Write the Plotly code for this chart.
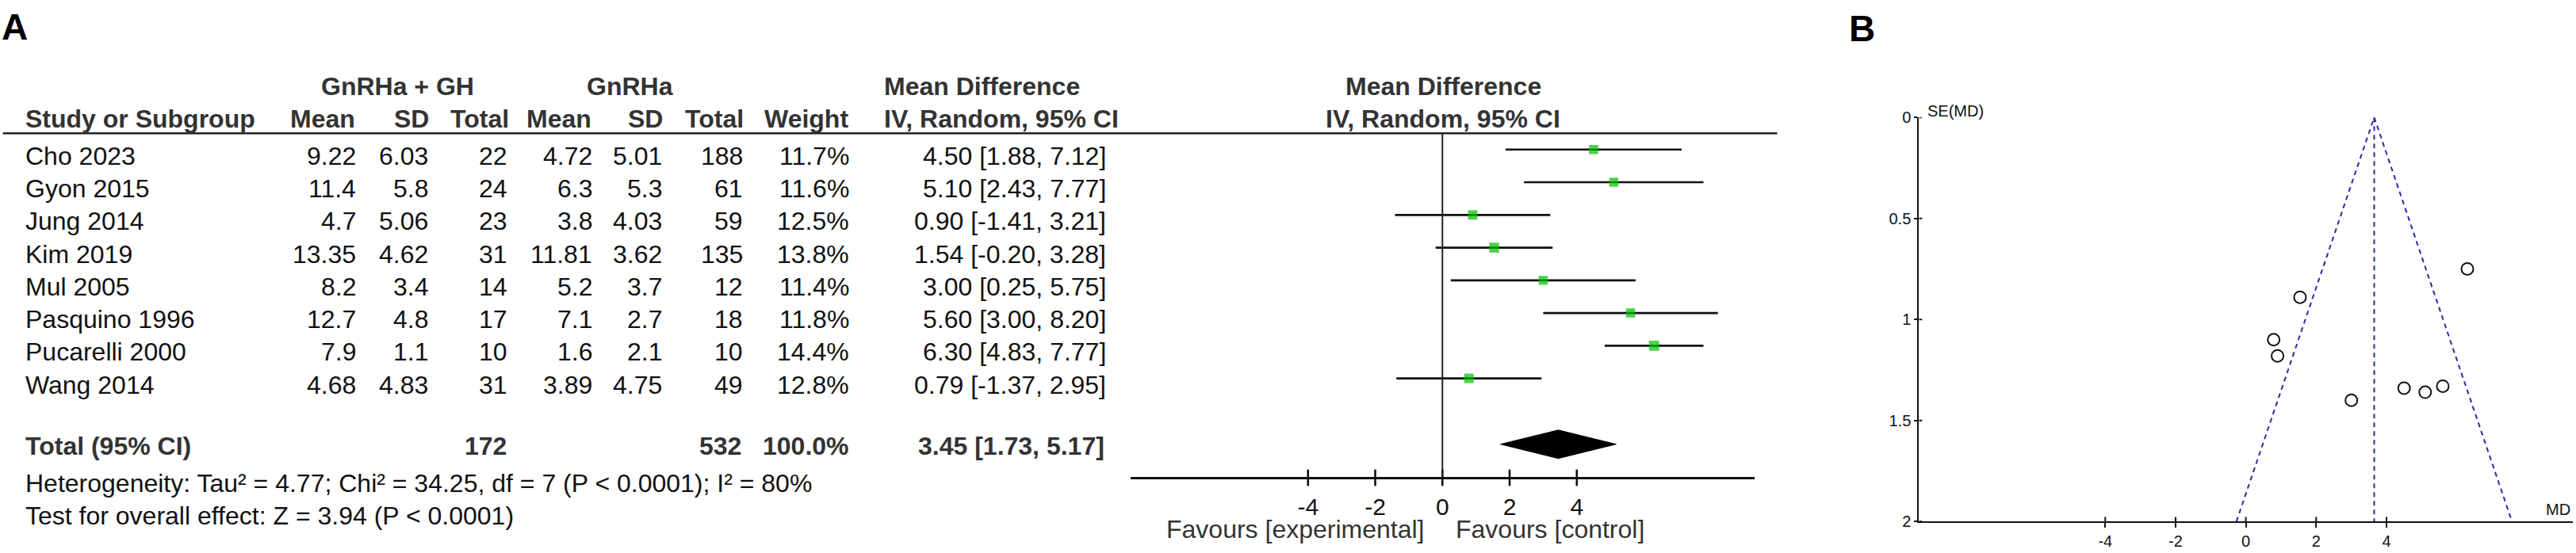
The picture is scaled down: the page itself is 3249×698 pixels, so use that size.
import plotly.graph_objects as go

W, H = 3249, 698

studies = ["Cho 2023", "Gyon 2015", "Jung 2014", "Kim 2019", "Mul 2005",
           "Pasquino 1996", "Pucarelli 2000", "Wang 2014"]
exp_mean = [9.22, 11.4, 4.7, 13.35, 8.2, 12.7, 7.9, 4.68]
exp_sd = [6.03, 5.8, 5.06, 4.62, 3.4, 4.8, 1.1, 4.83]
exp_n = [22, 24, 23, 31, 14, 17, 10, 31]
ctl_mean = [4.72, 6.3, 3.8, 11.81, 5.2, 7.1, 1.6, 3.89]
ctl_sd = [5.01, 5.3, 4.03, 3.62, 3.7, 2.7, 2.1, 4.75]
ctl_n = [188, 61, 59, 135, 12, 18, 10, 49]
weight = [11.7, 11.6, 12.5, 13.8, 11.4, 11.8, 14.4, 12.8]
md = [4.50, 5.10, 0.90, 1.54, 3.00, 5.60, 6.30, 0.79]
ci_lo = [1.88, 2.43, -1.41, -0.20, 0.25, 3.00, 4.83, -1.37]
ci_hi = [7.12, 7.77, 3.21, 3.28, 5.75, 8.20, 7.77, 2.95]

total_exp = 172
total_ctl = 532
total_md, total_lo, total_hi = 3.45, 1.73, 5.17
heterogeneity = "Heterogeneity: Tau² = 4.77; Chi² = 34.25, df = 7 (P < 0.0001); I² = 80%"
overall = "Test for overall effect: Z = 3.94 (P < 0.0001)"

forest_ticks = [-4, -2, 0, 2, 4]

# funnel plot (panel B)
se_md = [1.34, 1.36, 1.18, 0.89, 1.40, 1.33, 0.75, 1.10]
funnel_center = 3.65
funnel_ticks = [-4, -2, 0, 2, 4]
se_ticks = [0, 0.5, 1, 1.5, 2]
se_ticktext = ["0", "0.5", "1", "1.5", "2"]

FONT = "Arial, Liberation Sans, sans-serif"
NARROW = "Liberation Sans Narrow, Arial Narrow, Liberation Sans, sans-serif"
HEAD = "#333333"
INK = "#111111"


def px(x):
    return x / W


def py(y):
    return 1 - y / H


# row units: forest rows sit at 0..7, one row = 42.6 px
ROW0, ROWH = 183.6, 42.6


def rowpos(p):
    return (p - ROW0) / ROWH


axis_row = rowpos(610.8)
total_row = rowpos(567.6)

fig = go.Figure()

# confidence interval lines
xs, ys = [], []
for k in range(len(studies)):
    xs += [ci_lo[k], ci_hi[k], None]
    ys += [k, k, None]
fig.add_trace(go.Scatter(x=xs, y=ys, mode="lines", line=dict(color=INK, width=2.6),
                         xaxis="x", yaxis="y", hoverinfo="skip"))
fig.add_trace(go.Scatter(x=md, y=list(range(len(studies))), mode="markers",
                         marker=dict(symbol="square", color="#00c000",
                                     size=[11.5 * (w / 11.7) ** 0.5 for w in weight],
                                     line=dict(width=0)),
                         xaxis="x", yaxis="y"))

# pooled diamond
dh = 18.5 / ROWH
fig.add_trace(go.Scatter(x=[total_lo, total_md, total_hi, total_md, total_lo],
                         y=[total_row, total_row - dh, total_row, total_row + dh, total_row],
                         mode="lines", fill="toself", fillcolor="black",
                         line=dict(color="black", width=1), xaxis="x", yaxis="y"))

# forest ticks crossing the axis line
tx, ty = [], []
for t in forest_ticks:
    tx += [t, t, None]
    ty += [axis_row - 0.24, axis_row + 0.26, None]
fig.add_trace(go.Scatter(x=tx, y=ty, mode="lines", line=dict(color=INK, width=2.6),
                         xaxis="x", yaxis="y", hoverinfo="skip"))

# funnel plot
fig.add_trace(go.Scatter(x=[funnel_center - 1.96 * 2, funnel_center, funnel_center + 1.96 * 2],
                         y=[2, 0, 2], mode="lines",
                         line=dict(color="#2a2aa8", width=2, dash="6px,5px"),
                         xaxis="x2", yaxis="y2"))
fig.add_trace(go.Scatter(x=[funnel_center, funnel_center], y=[0, 2], mode="lines",
                         line=dict(color="#2a2aa8", width=2, dash="6px,5px"),
                         xaxis="x2", yaxis="y2"))
fig.add_trace(go.Scatter(x=md, y=se_md, mode="markers",
                         marker=dict(symbol="circle-open", size=15, color="#111",
                                     line=dict(width=2)),
                         xaxis="x2", yaxis="y2"))
# inside halves of the funnel ticks
fx, fy = [], []
for t in funnel_ticks:
    fx += [t, t, None]
    fy += [2, 2 - 6 / 263.8, None]
fig.add_trace(go.Scatter(x=fx, y=fy, mode="lines", line=dict(color=INK, width=2),
                         xaxis="x2", yaxis="y2", hoverinfo="skip"))
gx, gy = [], []
for s in se_ticks:
    gx += [-9.3, -9.3 + 4 / 44.3, None]
    gy += [s, s, None]
fig.add_trace(go.Scatter(x=gx, y=gy, mode="lines", line=dict(color=INK, width=2),
                         xaxis="x2", yaxis="y2", hoverinfo="skip"))

ann = []


def text(x, y, s, anchor="right", size=32, bold=False, color=INK, yref="paper",
         yshift=0, family=FONT):
    if bold:
        s = "<b>" + s + "</b>"
    ann.append(dict(x=px(x), y=y, xref="paper", yref=yref, text=s, showarrow=False,
                    xanchor=anchor, yanchor="middle", yshift=yshift,
                    font=dict(family=family, size=size, color=color)))


text(0, py(24), "A", "left", 46, True, "black")
text(2330, py(26), "B", "left", 46, True, "black")

# headers
text(501, py(101.5), "GnRHa + GH", "center", bold=True, color=HEAD)
text(794, py(101.5), "GnRHa", "center", bold=True, color=HEAD)
text(1113, py(101.5), "Mean Difference", "left", bold=True, color=HEAD)
text(1820, py(101.5), "Mean Difference", "center", bold=True, color=HEAD)
hy = py(143.5)
text(30, hy, "Study or Subgroup", "left", bold=True, color=HEAD)
for xr, lab in [(450, "Mean"), (543, "SD"), (644, "Total"), (748, "Mean"), (838, "SD"),
                (940, "Total"), (1072, "Weight")]:
    text(xr, hy, lab, bold=True, color=HEAD)
text(1113, hy, "IV, Random, 95% CI", "left", bold=True, color=HEAD)
text(1820, hy, "IV, Random, 95% CI", "center", bold=True, color=HEAD)

# study rows
for k, name in enumerate(studies):
    text(30, k, name, "left", yref="y", yshift=-8)
    text(450.5, k, str(exp_mean[k]), yref="y", yshift=-8)
    text(541.5, k, str(exp_sd[k]), yref="y", yshift=-8)
    text(642, k, str(exp_n[k]), yref="y", yshift=-8)
    text(748.5, k, str(ctl_mean[k]), yref="y", yshift=-8)
    text(837.5, k, str(ctl_sd[k]), yref="y", yshift=-8)
    text(939, k, str(ctl_n[k]), yref="y", yshift=-8)
    text(1072.5, k, "%.1f%%" % weight[k], yref="y", yshift=-8)
    text(1397, k, "%.2f [%.2f, %.2f]" % (md[k], ci_lo[k], ci_hi[k]), yref="y", yshift=-8)

ty_ = py(570)
text(30, ty_, "Total (95% CI)", "left", bold=True, color=HEAD)
text(641, ty_, str(total_exp), bold=True, color=HEAD)
text(937, ty_, str(total_ctl), bold=True, color=HEAD)
text(1073, ty_, "100.0%", bold=True, color=HEAD)
text(1395, ty_, "%.2f [%.2f, %.2f]" % (total_md, total_lo, total_hi), bold=True, color=HEAD)
text(30, py(619), heterogeneity, "left")
text(30, py(661), overall, "left")
text(1798, py(678), "Favours [experimental]", "right", color=HEAD)
text(1834, py(678), "Favours [control]", "left", color=HEAD)

text(2429, py(133), "SE(MD)", "left", 20, family=NARROW)
text(3244, py(653), "MD", "right", 20, family=NARROW)

shapes = [
    dict(type="line", xref="paper", yref="paper", x0=px(3.6), x1=px(2241.5),
         y0=py(162.3), y1=py(162.3), line=dict(color="#222", width=2.6)),
    dict(type="line", xref="x", yref="y", x0=0, x1=0, y0=rowpos(162.3), y1=axis_row,
         line=dict(color="#222", width=2)),
]

fig.update_layout(
    width=W, height=H, margin=dict(l=0, r=0, t=0, b=0),
    paper_bgcolor="white", plot_bgcolor="rgba(0,0,0,0)", showlegend=False,
    annotations=ann, shapes=shapes,
    xaxis=dict(domain=[px(1426), px(2212.5)], range=[-9.28, 9.28], anchor="free",
               position=py(610.8), showline=True, linecolor=INK, linewidth=2.6,
               showgrid=False, zeroline=False, tickmode="array", tickvals=forest_ticks,
               ticktext=[str(t) for t in forest_ticks], ticks="outside", ticklen=10,
               tickcolor="rgba(0,0,0,0)", tickfont=dict(family=FONT, size=30, color=INK)),
    yaxis=dict(domain=[0, 1], range=[rowpos(H), rowpos(0)], visible=False),
    xaxis2=dict(domain=[px(2420.3), px(3245)], range=[-9.3, 9.3], anchor="y2",
                showline=True, linecolor=INK, linewidth=2, showgrid=False, zeroline=False,
                tickmode="array", tickvals=funnel_ticks,
                ticktext=[str(t) for t in funnel_ticks], ticks="outside", ticklen=6,
                tickwidth=2, tickcolor=INK, tickfont=dict(family=NARROW, size=20, color=INK)),
    yaxis2=dict(domain=[py(668.4), py(141.6)], range=[2, 0], anchor="x2",
                showline=True, linecolor=INK, linewidth=2, showgrid=False, zeroline=False,
                tickmode="array", tickvals=se_ticks, ticktext=se_ticktext,
                ticks="outside", ticklen=4, tickwidth=2, tickcolor=INK,
                tickfont=dict(family=NARROW, size=20, color=INK)),
)

fig.write_html("out.html", config={"displayModeBar": False},
               post_script="document.body.style.margin='0';")
